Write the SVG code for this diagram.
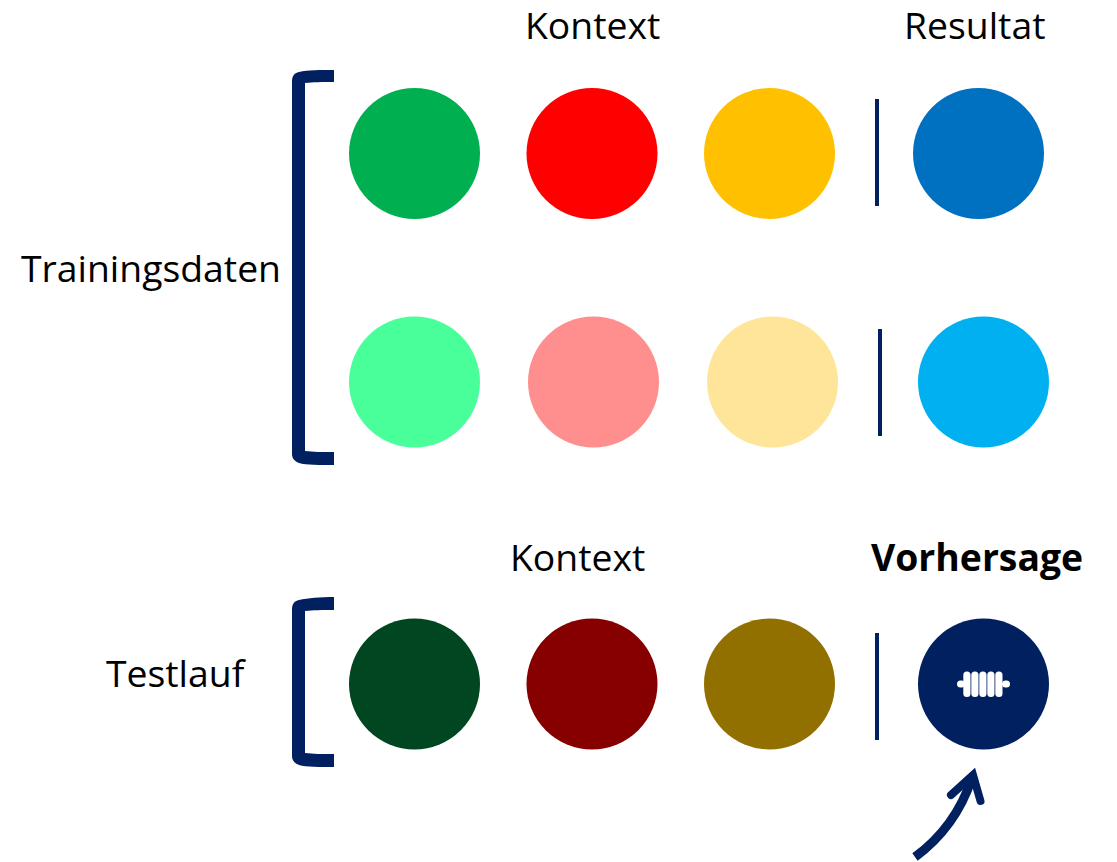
<svg xmlns="http://www.w3.org/2000/svg" width="1117" height="862" viewBox="0 0 1117 862">
<style>
text{font-family:"Open Sans","Noto Sans",sans-serif;font-size:37.33px;fill:#000}
.b{fill:#002060}
.d{stroke:#002060;stroke-width:4;fill:none}
.i{fill:#fff}
</style>
<rect width="1117" height="862" fill="#fff"/>
<g id="labels">
<text x="525" y="39">Kontext</text>
<text x="904" y="39">Resultat</text>
<text x="21" y="282">Trainingsdaten</text>
<text x="510" y="571">Kontext</text>
<text x="871" y="571" font-weight="700">Vorhersage</text>
<text x="106" y="687">Testlauf</text>
</g>
<g id="connectors">
<path class="b" d="M334 70V82C322 82 313 82 305 83V451C313 452 322 452 334 452V465C320 465 306 465 299 463C294 461 292 458 292 454V82C292 76 294 73 299 72C308 70 320 70 334 70Z"/>
<path class="b" d="M334 597V610C322 610 313 610 305 611V753C313 754 322 754 334 754V767C320 767 306 767 299 765C294 763 292 760 292 756V610C292 604 294 601 299 600C308 598 320 597 334 597Z"/>
<path class="d" d="M877 99V206M880 329V436M877 633V740"/>
<path d="M915 857C945 835 962 808 972 778" fill="none" stroke="#002060" stroke-width="9"/>
<path d="M951 795L973 775L980.500 801" fill="none" stroke="#002060" stroke-width="8" stroke-linecap="round" stroke-linejoin="miter"/>
</g>
<g id="n1"><circle cx="414.500" cy="153.500" r="65.500" fill="#00b050"/></g>
<g id="n2"><circle cx="592" cy="153.500" r="65.500" fill="#f00"/></g>
<g id="n3"><circle cx="769.500" cy="153.500" r="65.500" fill="#ffc000"/></g>
<g id="n4"><circle cx="978.500" cy="153.500" r="65.500" fill="#0070c0"/></g>
<g id="n5"><circle cx="414.500" cy="382" r="65.500" fill="#49ff99"/></g>
<g id="n6"><circle cx="593.500" cy="382" r="65.500" fill="#ff8f8f"/></g>
<g id="n7"><circle cx="772.500" cy="382" r="65.500" fill="#ffe599"/></g>
<g id="n8"><circle cx="983.500" cy="382" r="65.500" fill="#00b0f0"/></g>
<g id="n9"><circle cx="414.500" cy="684" r="65.500" fill="#004620"/></g>
<g id="n10"><circle cx="592" cy="684" r="65.500" fill="#860000"/></g>
<g id="n11"><circle cx="769.500" cy="684" r="65.500" fill="#927000"/></g>
<g id="n12"><circle cx="983.500" cy="684" r="65.500" fill="#002060"/>
<rect class="i" x="957" y="680.500" width="8" height="7" rx="3.500"/>
<rect class="i" x="1002" y="680.500" width="8" height="7" rx="3.500"/>
<rect class="i" x="963.300" y="671.500" width="7.200" height="25.500" rx="3.500"/>
<rect class="i" x="971.300" y="671.500" width="7.200" height="25.500" rx="3.500"/>
<rect class="i" x="979.300" y="671.500" width="7.200" height="25.500" rx="3.500"/>
<rect class="i" x="987.300" y="671.500" width="7.200" height="25.500" rx="3.500"/>
<rect class="i" x="995.300" y="671.500" width="7.200" height="25.500" rx="3.500"/>
</g>
</svg>
